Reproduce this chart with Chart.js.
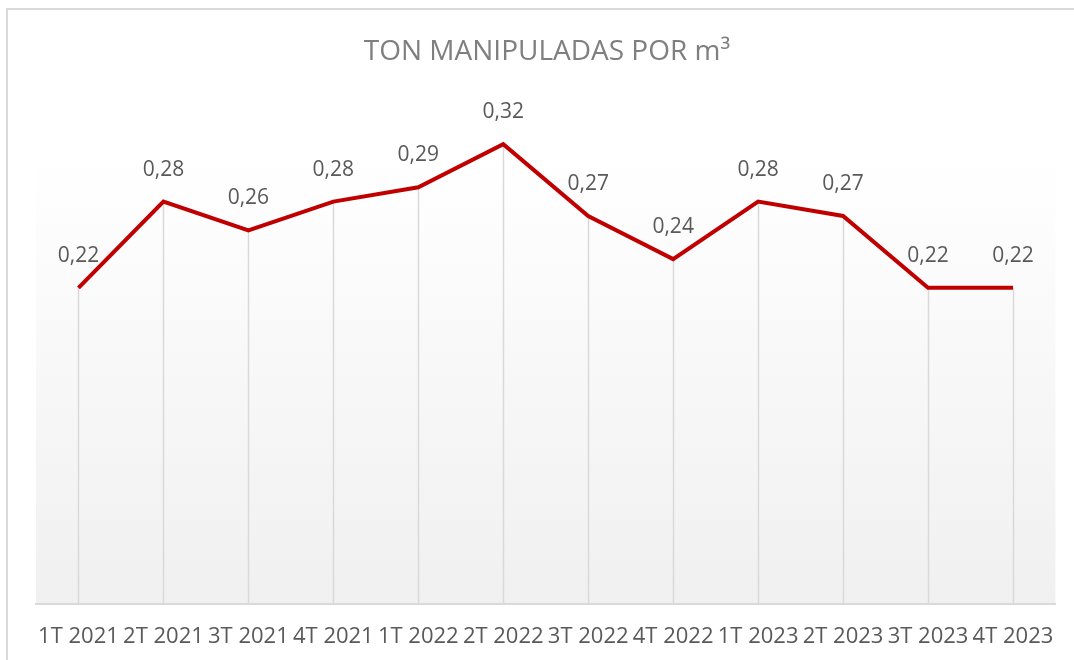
<!DOCTYPE html>
<html>
<head>
<meta charset="utf-8">
<script src="https://cdn.jsdelivr.net/npm/chart.js@4"></script>
<style>
html,body{margin:0;padding:0;background:#fff;}
#wrap{width:1074px;height:660px;position:relative;}
</style>
</head>
<body>
<div id="wrap"><canvas id="c" width="1074" height="660"></canvas></div>
<script>
const categories = ["1T 2021","2T 2021","3T 2021","4T 2021","1T 2022","2T 2022","3T 2022","4T 2022","1T 2023","2T 2023","3T 2023","4T 2023"];
const tonPorM3 = [0.22,0.28,0.26,0.28,0.29,0.32,0.27,0.24,0.28,0.27,0.22,0.22];
const chartTitle = "TON MANIPULADAS POR m\u00B3";

const FONT = "'Open Sans', sans-serif";

const decorPlugin = {
  id: 'decor',
  beforeDraw(chart) {
    const {ctx, chartArea} = chart;
    ctx.save();
    ctx.strokeStyle = '#d9d9d9';
    ctx.lineWidth = 2;
    ctx.beginPath();
    ctx.moveTo(7, 660);
    ctx.lineTo(7, 9);
    ctx.lineTo(1074, 9);
    ctx.stroke();
    const top = 156;
    const g = ctx.createLinearGradient(0, top, 0, chartArea.bottom);
    g.addColorStop(0, '#ffffff');
    g.addColorStop(1, '#f0f0f0');
    ctx.fillStyle = g;
    ctx.fillRect(chartArea.left, top, chartArea.right - chartArea.left, chartArea.bottom - top);
    ctx.restore();
  },
  beforeDatasetsDraw(chart) {
    const {ctx, chartArea} = chart;
    const meta = chart.getDatasetMeta(0);
    ctx.save();
    ctx.strokeStyle = '#d9d9d9';
    ctx.lineWidth = 1.5;
    meta.data.forEach(p => {
      ctx.beginPath();
      ctx.moveTo(Math.round(p.x) + 0.5, p.y);
      ctx.lineTo(Math.round(p.x) + 0.5, chartArea.bottom);
      ctx.stroke();
    });
    ctx.restore();
  },
  afterDatasetsDraw(chart) {
    const {ctx} = chart;
    const meta = chart.getDatasetMeta(0);
    const vals = chart.data.datasets[0].data;
    ctx.save();
    ctx.fillStyle = '#595959';
    ctx.font = "21px " + FONT;
    ctx.textAlign = 'center';
    ctx.textBaseline = 'middle';
    meta.data.forEach((p, i) => {
      ctx.fillText(vals[i].toFixed(2).replace('.', ','), p.x, p.y - 32);
    });
    ctx.restore();
  }
};

new Chart(document.getElementById('c'), {
  type: 'line',
  data: {
    labels: categories,
    datasets: [{
      data: tonPorM3,
      borderColor: '#c00000',
      borderWidth: 4,
      pointRadius: 0,
      pointHoverRadius: 0,
      tension: 0,
      fill: false,
      borderJoinStyle: 'miter'
    }]
  },
  options: {
    responsive: false,
    animation: false,
    layout: { padding: { left: 36, right: 16, top: 35, bottom: -10.4 } },
    plugins: {
      legend: { display: false },
      tooltip: { enabled: false },
      title: {
        display: true,
        text: chartTitle,
        color: '#7f7f7f',
        font: { family: FONT, size: 28, weight: 'normal', lineHeight: 1.2 },
        padding: { top: 0, bottom: 32.4 }
      }
    },
    scales: {
      x: {
        offset: true,
        grid: { display: false, drawTicks: false },
        border: { display: true, color: '#d9d9d9', width: 2 },
        ticks: {
          color: '#595959',
          font: { family: FONT, size: 22, lineHeight: 1.2 },
          padding: 20,
          maxRotation: 0,
          minRotation: 0,
          autoSkip: false
        }
      },
      y: {
        display: false,
        min: 0,
        max: 0.35
      }
    }
  },
  plugins: [decorPlugin]
});
</script>
</body>
</html>
